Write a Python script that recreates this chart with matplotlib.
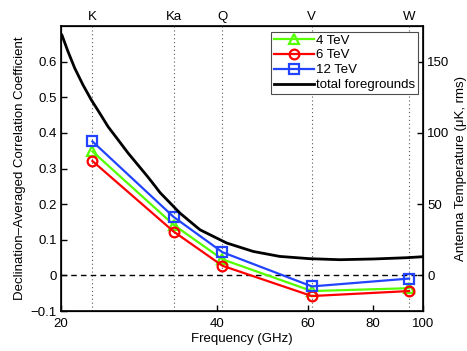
import matplotlib
matplotlib.use("Agg")
import matplotlib.pyplot as plt
from matplotlib.ticker import FixedLocator, FixedFormatter, NullLocator

plt.rcParams['font.family'] = ['Liberation Sans', 'DejaVu Sans']
plt.rcParams['font.size'] = 9.5
plt.rcParams['axes.unicode_minus'] = True

# Data
bands = ['K', 'Ka', 'Q', 'V', 'W']
band_freq = [23, 33, 41, 61, 94]
corr_4tev = [0.348, 0.142, 0.045, -0.044, -0.036]
corr_6tev = [0.321, 0.123, 0.027, -0.058, -0.044]
corr_12tev = [0.376, 0.164, 0.065, -0.031, -0.009]

fg_freq = [20.0, 20.09, 20.63, 21.26, 22.05, 22.88, 23.75, 24.65, 25.77, 26.94, 28.17,
           29.44, 30.33, 31.06, 33.94, 37.1, 41.78, 47.0, 52.9, 60.5, 69.1, 80.2, 93.0, 100.0]
fg_temp = [169.5, 168.5, 157.1, 145.4, 133.7, 123.2, 113.9, 104.4, 95.2, 85.9, 77.4,
           69.0, 63.0, 58.1, 43.7, 32.0, 22.7, 16.8, 13.3, 11.7, 11.0, 11.5, 12.4, 13.1]

x_ticks = [20, 40, 60, 80, 100]
y_left_ticks = [-0.1, 0, 0.1, 0.2, 0.3, 0.4, 0.5, 0.6]
y_left_labels = ['\u22120.1', '0', '0.1', '0.2', '0.3', '0.4', '0.5', '0.6']
y_right_ticks = [0, 50, 100, 150]

green = '#55ff00'
red = '#ff0000'
blue = '#2244ff'

fig = plt.figure(figsize=(4.67, 3.51), dpi=100)
ax = fig.add_axes([61/467, 1-311/351, (423-61)/467, (311-26)/351])
ax.set_xscale('log')
ax.set_xlim(20, 100)
ax.set_ylim(-0.1, 0.7)

for f in band_freq:
    ax.axvline(f, color='0.35', linestyle=(0, (1, 2.5)), linewidth=0.8, zorder=1)
ax.axhline(0, color='black', linestyle=(0, (4, 3)), linewidth=1.0, zorder=1)

ms = 7
l4, = ax.plot(band_freq, corr_4tev, color=green, lw=1.6, marker='^', ms=ms,
              mfc='none', mec=green, mew=1.6, label='4 TeV', zorder=3)
l6, = ax.plot(band_freq, corr_6tev, color=red, lw=1.6, marker='o', ms=ms,
              mfc='none', mec=red, mew=1.6, label='6 TeV', zorder=3)
l12, = ax.plot(band_freq, corr_12tev, color=blue, lw=1.6, marker='s', ms=ms - 0.5,
               mfc='none', mec=blue, mew=1.6, label='12 TeV', zorder=3)

ax.xaxis.set_major_locator(FixedLocator(x_ticks))
ax.xaxis.set_major_formatter(FixedFormatter([str(t) for t in x_ticks]))
ax.xaxis.set_minor_locator(NullLocator())
ax.yaxis.set_major_locator(FixedLocator(y_left_ticks))
ax.yaxis.set_major_formatter(FixedFormatter(y_left_labels))
ax.tick_params(axis='y', direction='in', length=4, width=1, pad=3)
ax.tick_params(axis='x', direction='in', length=4, width=1, pad=5)
ax.set_xlabel('Frequency (GHz)', labelpad=2)
ax.set_ylabel('Declination\u2013Averaged Correlation Coefficient', labelpad=3)
for s in ax.spines.values():
    s.set_linewidth(1.2)

ax2 = ax.twinx()
ax2.set_ylim(-25, 175)
lfg, = ax2.plot(fg_freq, fg_temp, color='black', lw=2.0, label='total foregrounds', zorder=2)
ax2.yaxis.set_major_locator(FixedLocator(y_right_ticks))
ax2.tick_params(axis='y', direction='in', length=4, width=1, pad=3)
ax2.set_ylabel('Antenna Temperature (\u03bcK, rms)', labelpad=4)
ax2.set_xlim(20, 100)

ax3 = ax.twiny()
ax3.set_xscale('log')
ax3.set_xlim(20, 100)
ax3.xaxis.set_major_locator(FixedLocator(band_freq))
ax3.xaxis.set_major_formatter(FixedFormatter(bands))
ax3.xaxis.set_minor_locator(NullLocator())
ax3.tick_params(axis='x', direction='in', length=0, pad=2)

leg = ax3.legend([l4, l6, l12, lfg], ['4 TeV', '6 TeV', '12 TeV', 'total foregrounds'],
                 loc='upper right', bbox_to_anchor=(0.986, 0.98), borderaxespad=0,
                 fancybox=False, framealpha=1, edgecolor='0.3', handlelength=3.0,
                 handletextpad=0.2, labelspacing=0.2, borderpad=0.2, fontsize=9.5)
leg.get_frame().set_linewidth(0.8)

fig.savefig('out.png', dpi=100)
